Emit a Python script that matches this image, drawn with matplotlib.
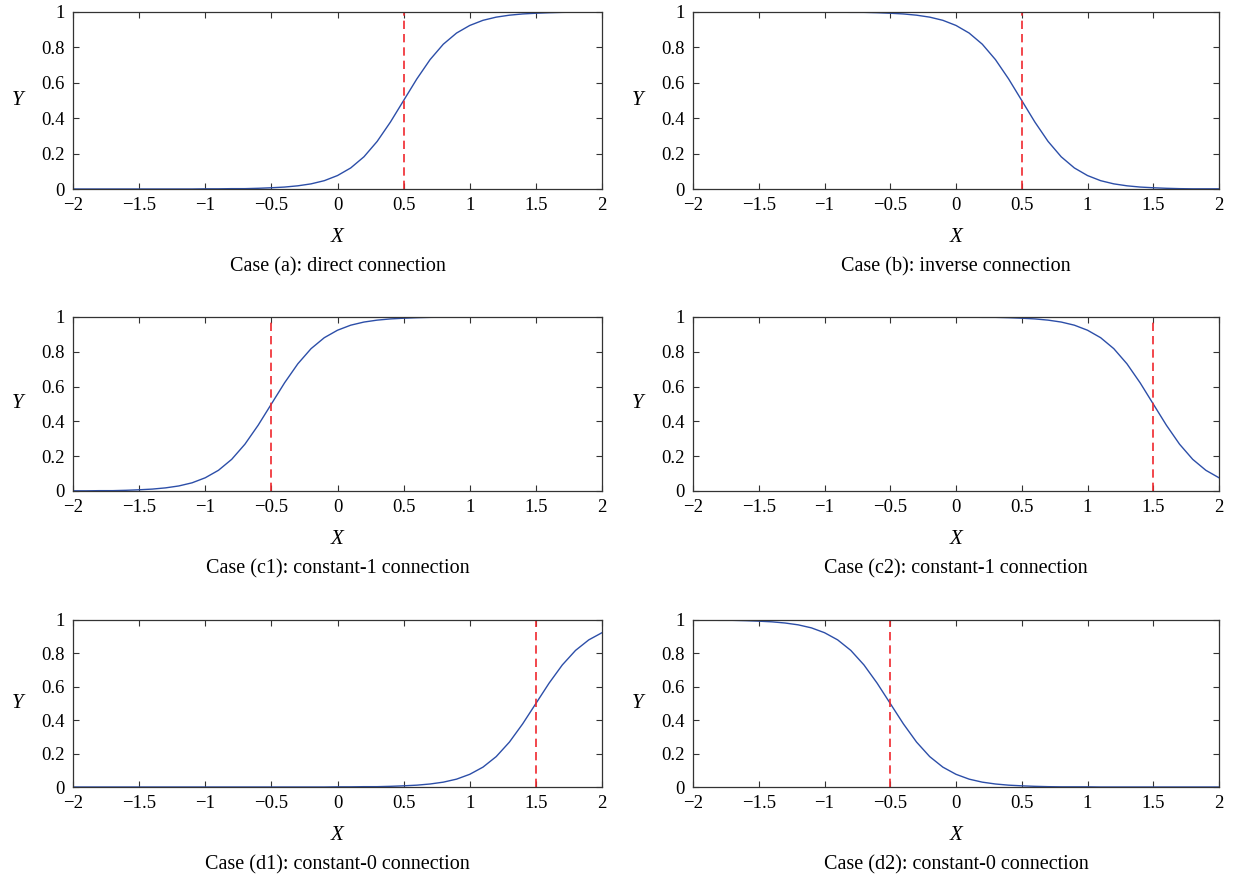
import matplotlib
matplotlib.use('Agg')
import matplotlib.pyplot as plt

plt.rcParams['font.family'] = ['Liberation Serif', 'DejaVu Serif']

# x grid of the plotted curves, step 0.1
x = [-2.0, -1.9, -1.8, -1.7, -1.6, -1.5, -1.4, -1.3, -1.2, -1.1,
     -1.0, -0.9, -0.8, -0.7, -0.6, -0.5, -0.4, -0.3, -0.2, -0.1,
     0.0, 0.1, 0.2, 0.3, 0.4, 0.5, 0.6, 0.7, 0.8, 0.9,
     1.0, 1.1, 1.2, 1.3, 1.4, 1.5, 1.6, 1.7, 1.8, 1.9, 2.0]

y_a = [0, 0, 0, 0, 0, 0, 0, 0, 0, 0,
       0.001, 0.001, 0.002, 0.002, 0.004, 0.007, 0.011, 0.018, 0.029, 0.047,
       0.076, 0.119, 0.182, 0.269, 0.378, 0.500, 0.622, 0.731, 0.818, 0.881,
       0.924, 0.953, 0.971, 0.982, 0.989, 0.993, 0.996, 0.998, 0.999, 0.999, 0.999]
y_b = [1, 1, 1, 1, 1, 1, 1, 1, 1, 1,
       0.999, 0.999, 0.998, 0.998, 0.996, 0.993, 0.989, 0.982, 0.971, 0.953,
       0.924, 0.881, 0.818, 0.731, 0.622, 0.500, 0.378, 0.269, 0.182, 0.119,
       0.076, 0.047, 0.029, 0.018, 0.011, 0.007, 0.004, 0.002, 0.001, 0.001, 0.001]
y_c1 = [0.001, 0.001, 0.002, 0.002, 0.004, 0.007, 0.011, 0.018, 0.029, 0.047,
        0.076, 0.119, 0.182, 0.269, 0.378, 0.500, 0.622, 0.731, 0.818, 0.881,
        0.924, 0.953, 0.971, 0.982, 0.989, 0.993, 0.996, 0.998, 0.999, 0.999,
        0.999, 1, 1, 1, 1, 1, 1, 1, 1, 1, 1]
y_c2 = [1, 1, 1, 1, 1, 1, 1, 1, 1, 1,
        1, 1, 1, 1, 1, 1, 1, 1, 1, 1,
        0.999, 0.999, 0.998, 0.998, 0.996, 0.993, 0.989, 0.982, 0.971, 0.953,
        0.924, 0.881, 0.818, 0.731, 0.622, 0.500, 0.378, 0.269, 0.182, 0.119, 0.076]
y_d1 = [0, 0, 0, 0, 0, 0, 0, 0, 0, 0,
        0, 0, 0, 0, 0, 0, 0, 0, 0, 0,
        0.001, 0.001, 0.002, 0.002, 0.004, 0.007, 0.011, 0.018, 0.029, 0.047,
        0.076, 0.119, 0.182, 0.269, 0.378, 0.500, 0.622, 0.731, 0.818, 0.881, 0.924]
y_d2 = [0.999, 0.999, 0.998, 0.998, 0.996, 0.993, 0.989, 0.982, 0.971, 0.953,
        0.924, 0.881, 0.818, 0.731, 0.622, 0.500, 0.378, 0.269, 0.182, 0.119,
        0.076, 0.047, 0.029, 0.018, 0.011, 0.007, 0.004, 0.002, 0.001, 0.001,
        0.001, 0, 0, 0, 0, 0, 0, 0, 0, 0, 0]

curves = [y_a, y_b, y_c1, y_c2, y_d1, y_d2]
thresholds = [0.5, 0.5, -0.5, 1.5, 1.5, -0.5]
titles = ['Case (a): direct connection', 'Case (b): inverse connection',
          'Case (c1): constant-1 connection', 'Case (c2): constant-1 connection',
          'Case (d1): constant-0 connection', 'Case (d2): constant-0 connection']

xticks = [-2, -1.5, -1, -0.5, 0, 0.5, 1, 1.5, 2]
xticklabels = ['\u22122', '\u22121.5', '\u22121', '\u22120.5', '0', '0.5', '1', '1.5', '2']
yticks = [0, 0.2, 0.4, 0.6, 0.8, 1]
yticklabels = ['0', '0.2', '0.4', '0.6', '0.8', '1']

W, H = 1233, 881
fig = plt.figure(figsize=(W / 100, H / 100), dpi=100)

# pixel boxes: (left, right) per column, (top, bottom) per row
cols = [(73, 602), (693, 1219)]
rows = [(12, 189), (317, 491), (620, 787)]
xlab_y = [238, 540, 835]
title_y = [267, 569, 865]

blue = '#2c4ea8'
red = '#f0282d'

for k in range(6):
    r, c = divmod(k, 2)
    l, rt = cols[c]
    t, b = rows[r]
    ax = fig.add_axes([l / W, 1 - b / H, (rt - l) / W, (b - t) / H])
    ax.plot(x, curves[k], color=blue, lw=1.0)
    ax.axvline(thresholds[k], color=red, lw=1.2, ls=(0, (5, 3)))
    ax.set_xlim(-2, 2)
    ax.set_ylim(0, 1)
    ax.set_xticks(xticks)
    ax.set_xticklabels(xticklabels)
    ax.set_yticks(yticks)
    ax.set_yticklabels(yticklabels)
    ax.tick_params(direction='in', length=4, width=0.8, color='#333333',
                   top=True, right=True, labelsize=13.5, pad=6)
    for s in ax.spines.values():
        s.set_color('#333333')
        s.set_linewidth(0.9)
    cx = (l + rt) / 2
    fig.text(cx / W, 1 - xlab_y[r] / H, 'X', fontsize=15, style='italic',
             ha='center', va='center')
    fig.text(cx / W, 1 - title_y[r] / H, titles[k], fontsize=14.5,
             ha='center', va='center')
    fig.text((l - 55) / W, 1 - (t + b) / 2 / H, 'Y', fontsize=15,
             style='italic', ha='center', va='center')

fig.savefig('out.png', dpi=100)
